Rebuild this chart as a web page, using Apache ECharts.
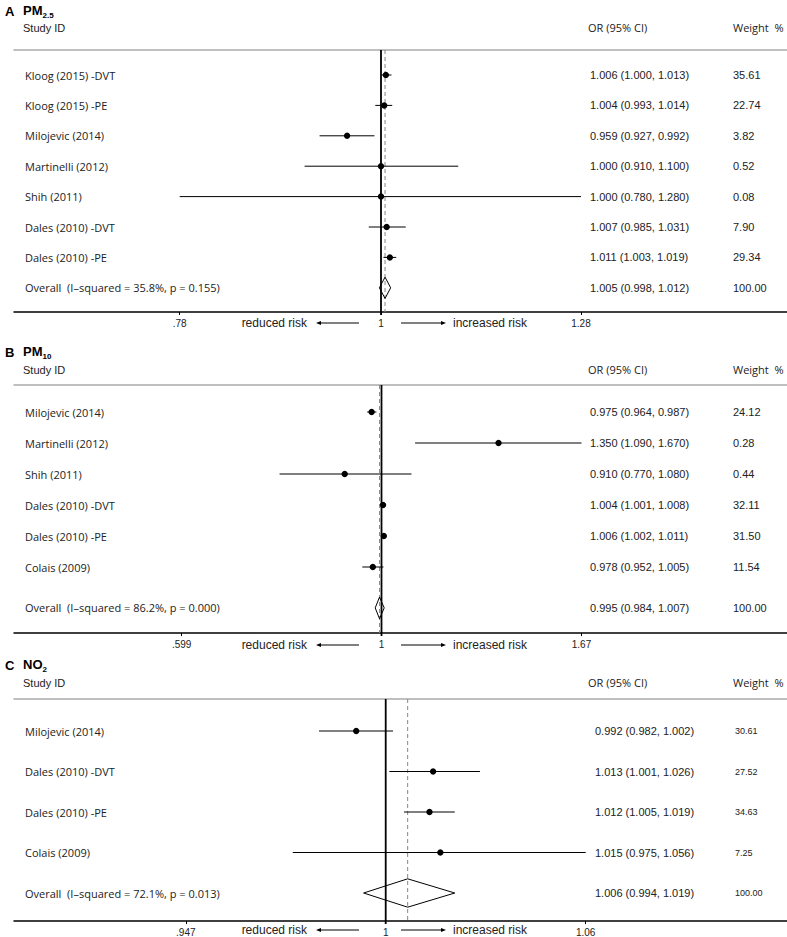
<!DOCTYPE html>
<html><head><meta charset="utf-8">
<script src="https://cdn.jsdelivr.net/npm/echarts@6/dist/echarts.min.js"></script>
<style>html,body{margin:0;padding:0;background:#fff}#c{width:787px;height:937px}</style>
</head><body><div id="c"></div>
<script>
// ---------- DATA ----------
// Panel A: PM2.5
const studiesA = ['Kloog (2015) -DVT','Kloog (2015) -PE','Milojevic (2014)','Martinelli (2012)','Shih (2011)','Dales (2010) -DVT','Dales (2010) -PE','Overall  (I\u2013squared = 35.8%, p = 0.155)'];
const orA     = [1.006, 1.004, 0.959, 1.000, 1.000, 1.007, 1.011, 1.005];
const loA     = [1.000, 0.993, 0.927, 0.910, 0.780, 0.985, 1.003, 0.998];
const hiA     = [1.013, 1.014, 0.992, 1.100, 1.280, 1.031, 1.019, 1.012];
const weightA = [35.61, 22.74, 3.82, 0.52, 0.08, 7.90, 29.34, 100.00];
const tickValuesA = [0.78, 1, 1.28];
const tickLabelsA = ['.78', '1', '1.28'];

// Panel B: PM10
const studiesB = ['Milojevic (2014)','Martinelli (2012)','Shih (2011)','Dales (2010) -DVT','Dales (2010) -PE','Colais (2009)','Overall  (I\u2013squared = 86.2%, p = 0.000)'];
const orB     = [0.975, 1.350, 0.910, 1.004, 1.006, 0.978, 0.995];
const loB     = [0.964, 1.090, 0.770, 1.001, 1.002, 0.952, 0.984];
const hiB     = [0.987, 1.670, 1.080, 1.008, 1.011, 1.005, 1.007];
const weightB = [24.12, 0.28, 0.44, 32.11, 31.50, 11.54, 100.00];
const tickValuesB = [0.599, 1, 1.67];
const tickLabelsB = ['.599', '1', '1.67'];

// Panel C: NO2
const studiesC = ['Milojevic (2014)','Dales (2010) -DVT','Dales (2010) -PE','Colais (2009)','Overall  (I\u2013squared = 72.1%, p = 0.013)'];
const orC     = [0.992, 1.013, 1.012, 1.015, 1.006];
const loC     = [0.982, 1.001, 1.005, 0.975, 0.994];
const hiC     = [1.002, 1.026, 1.019, 1.056, 1.019];
const weightC = [30.61, 27.52, 34.63, 7.25, 100.00];
const tickValuesC = [0.947, 1, 1.056];
const tickLabelsC = ['.947', '1', '1.06'];

const panelLetters = ['A', 'B', 'C'];
const panelTitles = [['PM', '2.5'], ['PM', '10'], ['NO', '2']];

// ---------- LAYOUT (positions / styles only) ----------
const layouts = [
  {top: 50, bottom: 312, firstRow: 75, step: 30.4, overallGap: 1, center: 381, half: 200, titleY: 13, headerY: 29, annoY: 323, orX: 590, wX: 733, wFont: 11},
  {top: 385, bottom: 633, firstRow: 412, step: 31, overallGap: 1.32, center: 381.5, half: 200, titleY: 354, headerY: 371, annoY: 645, orX: 590, wX: 733, wFont: 11},
  {top: 699, bottom: 921, firstRow: 731, step: 40.5, overallGap: 1, center: 385.7, half: 200, titleY: 667, headerY: 684, annoY: 930, orX: 595, wX: 735, wFont: 9}
];
const LEFT = 14, RIGHT = 787;
const FONT = '"Liberation Sans", Arial, sans-serif';
const NAMEFONT = '"Open Sans", "Liberation Sans", sans-serif';

const panels = [
  {names: studiesA, est: orA, lo: loA, hi: hiA, w: weightA, tv: tickValuesA, tl: tickLabelsA},
  {names: studiesB, est: orB, lo: loB, hi: hiB, w: weightB, tv: tickValuesB, tl: tickLabelsB},
  {names: studiesC, est: orC, lo: loC, hi: hiC, w: weightC, tv: tickValuesC, tl: tickLabelsC}
];

const grids = [], xAxes = [], yAxes = [], series = [], graphics = [];

panels.forEach((p, pi) => {
  const L = layouts[pi];
  const k = L.half / Math.log(p.tv[p.tv.length - 1]);
  const xmin = (LEFT - L.center) / k, xmax = (RIGHT - L.center) / k;
  const ymin = -(L.firstRow - L.top) / L.step, ymax = (L.bottom - L.firstRow) / L.step;
  const n = p.names.length;
  const rowPos = p.names.map((_, i) => i === n - 1 ? (n - 2) + L.overallGap : i);
  const lnTicks = p.tv.map(v => Math.log(v));

  grids.push({left: LEFT, width: RIGHT - LEFT, top: L.top, height: L.bottom - L.top, containLabel: false});
  xAxes.push({
    type: 'value', gridIndex: pi, position: 'bottom', min: xmin, max: xmax,
    splitLine: {show: false},
    axisLine: {show: true, onZero: false, lineStyle: {color: '#000', width: 1.5}},
    axisTick: {show: true, length: 3, customValues: lnTicks, lineStyle: {color: '#000'}},
    axisLabel: {show: true, customValues: lnTicks, margin: 6, fontSize: 10, color: '#222', fontFamily: FONT,
      formatter: v => { const j = lnTicks.findIndex(t => Math.abs(t - v) < 1e-9); return j >= 0 ? p.tl[j] : ''; }}
  });
  xAxes.push({
    type: 'value', gridIndex: pi, position: 'top', min: xmin, max: xmax,
    splitLine: {show: false},
    axisLine: {show: true, onZero: false, lineStyle: {color: '#aaa', width: 1.5}},
    axisTick: {show: false}, axisLabel: {show: false}
  });
  yAxes.push({type: 'value', gridIndex: pi, inverse: true, min: ymin, max: ymax, show: false,
    axisLine: {onZero: false}});

  const data = p.names.map((_, i) => [Math.log(p.est[i]), rowPos[i], Math.log(p.lo[i]), Math.log(p.hi[i]), i]);
  const lnOverall = Math.log(p.est[n - 1]);

  series.push({
    type: 'custom', xAxisIndex: pi * 2, yAxisIndex: pi, data: data,
    encode: {x: [0, 2, 3], y: 1}, clip: false,
    renderItem: function (params, api) {
      const i = api.value(4);
      const y = api.coord([0, api.value(1)])[1];
      const xe = api.coord([api.value(0), 0])[0];
      const xl = api.coord([api.value(2), 0])[0];
      const xh = api.coord([api.value(3), 0])[0];
      const cs = params.coordSys;
      const children = [];
      if (i === 0) {
        const x0 = api.coord([0, 0])[0];
        const xd = api.coord([lnOverall, 0])[0];
        children.push({type: 'line', shape: {x1: xd, y1: cs.y, x2: xd, y2: cs.y + cs.height},
          style: {stroke: '#888', lineWidth: 1, lineDash: [4, 3]}});
        children.push({type: 'line', shape: {x1: x0, y1: cs.y, x2: x0, y2: cs.y + cs.height + 3},
          style: {stroke: '#000', lineWidth: 1.8}});
      }
      if (i === n - 1) {
        const h = L.step * 0.35;
        children.push({type: 'polygon', shape: {points: [[xl, y], [xe, y - h], [xh, y], [xe, y + h]]},
          style: {fill: 'rgba(0,0,0,0)', stroke: '#000', lineWidth: 1}});
      } else {
        children.push({type: 'line', shape: {x1: xl, y1: y, x2: xh, y2: y}, style: {stroke: '#000', lineWidth: 1}});
        children.push({type: 'circle', shape: {cx: xe, cy: y, r: 3.2}, style: {fill: '#000'}});
      }
      children.push({type: 'text', x: 25, y: y, style: {text: p.names[i], fill: '#222', fontSize: 11, fontFamily: NAMEFONT, textAlign: 'left', textVerticalAlign: 'middle'}});
      const orText = p.est[i].toFixed(3) + ' (' + p.lo[i].toFixed(3) + ', ' + p.hi[i].toFixed(3) + ')';
      children.push({type: 'text', x: L.orX, y: y, style: {text: orText, fill: '#222', fontSize: 11, fontFamily: FONT, textAlign: 'left', textVerticalAlign: 'middle'}});
      children.push({type: 'text', x: L.wX, y: y, style: {text: p.w[i].toFixed(2), fill: '#222', fontSize: L.wFont, fontFamily: FONT, textAlign: 'left', textVerticalAlign: 'middle'}});
      return {type: 'group', children: children};
    }
  });

  // titles and headers
  graphics.push({type: 'text', left: 5, top: L.titleY - 8, style: {text: panelLetters[pi], fontSize: 13, fontWeight: 'bold', fontFamily: FONT, fill: '#000'}});
  graphics.push({type: 'text', left: 23, top: L.titleY - 9, style: {
    text: '{m|' + panelTitles[pi][0] + '}{s|' + panelTitles[pi][1] + '}',
    rich: {m: {fontSize: 13, fontWeight: 'bold', fontFamily: FONT, lineHeight: 18, fill: '#000'},
           s: {fontSize: 8, fontWeight: 'bold', fontFamily: FONT, lineHeight: 9, verticalAlign: 'bottom', fill: '#000'}}}});
  graphics.push({type: 'text', left: 23, top: L.headerY - 7, style: {text: 'Study ID', fontSize: 11, fontFamily: FONT, fill: '#222'}});
  graphics.push({type: 'text', left: 588, top: L.headerY - 7, style: {text: 'OR (95% CI)', fontSize: 11, fontFamily: NAMEFONT, fill: '#222'}});
  graphics.push({type: 'text', left: 733, top: L.headerY - 7, style: {text: 'Weight  %', fontSize: 11, fontFamily: NAMEFONT, fill: '#222'}});
  // risk annotations
  const ay = L.annoY;
  graphics.push({type: 'text', x: 307, y: ay, style: {text: 'reduced risk', fontSize: 12, fontFamily: FONT, fill: '#222', textAlign: 'right', textVerticalAlign: 'middle'}});
  graphics.push({type: 'line', shape: {x1: 320, y1: ay, x2: 359, y2: ay}, style: {stroke: '#000', lineWidth: 1}});
  graphics.push({type: 'polygon', shape: {points: [[316, ay], [321, ay - 2], [321, ay + 2]]}, style: {fill: '#000'}});
  graphics.push({type: 'line', shape: {x1: 401, y1: ay, x2: 442, y2: ay}, style: {stroke: '#000', lineWidth: 1}});
  graphics.push({type: 'polygon', shape: {points: [[446, ay], [441, ay - 2], [441, ay + 2]]}, style: {fill: '#000'}});
  graphics.push({type: 'text', x: 453, y: ay, style: {text: 'increased risk', fontSize: 12, fontFamily: FONT, fill: '#222', textAlign: 'left', textVerticalAlign: 'middle'}});
});

const chart = echarts.init(document.getElementById('c'), null, {renderer: 'svg'});
chart.setOption({
  animation: false,
  backgroundColor: '#fff',
  grid: grids, xAxis: xAxes, yAxis: yAxes, series: series,
  graphic: graphics
});
</script>
</body></html>
